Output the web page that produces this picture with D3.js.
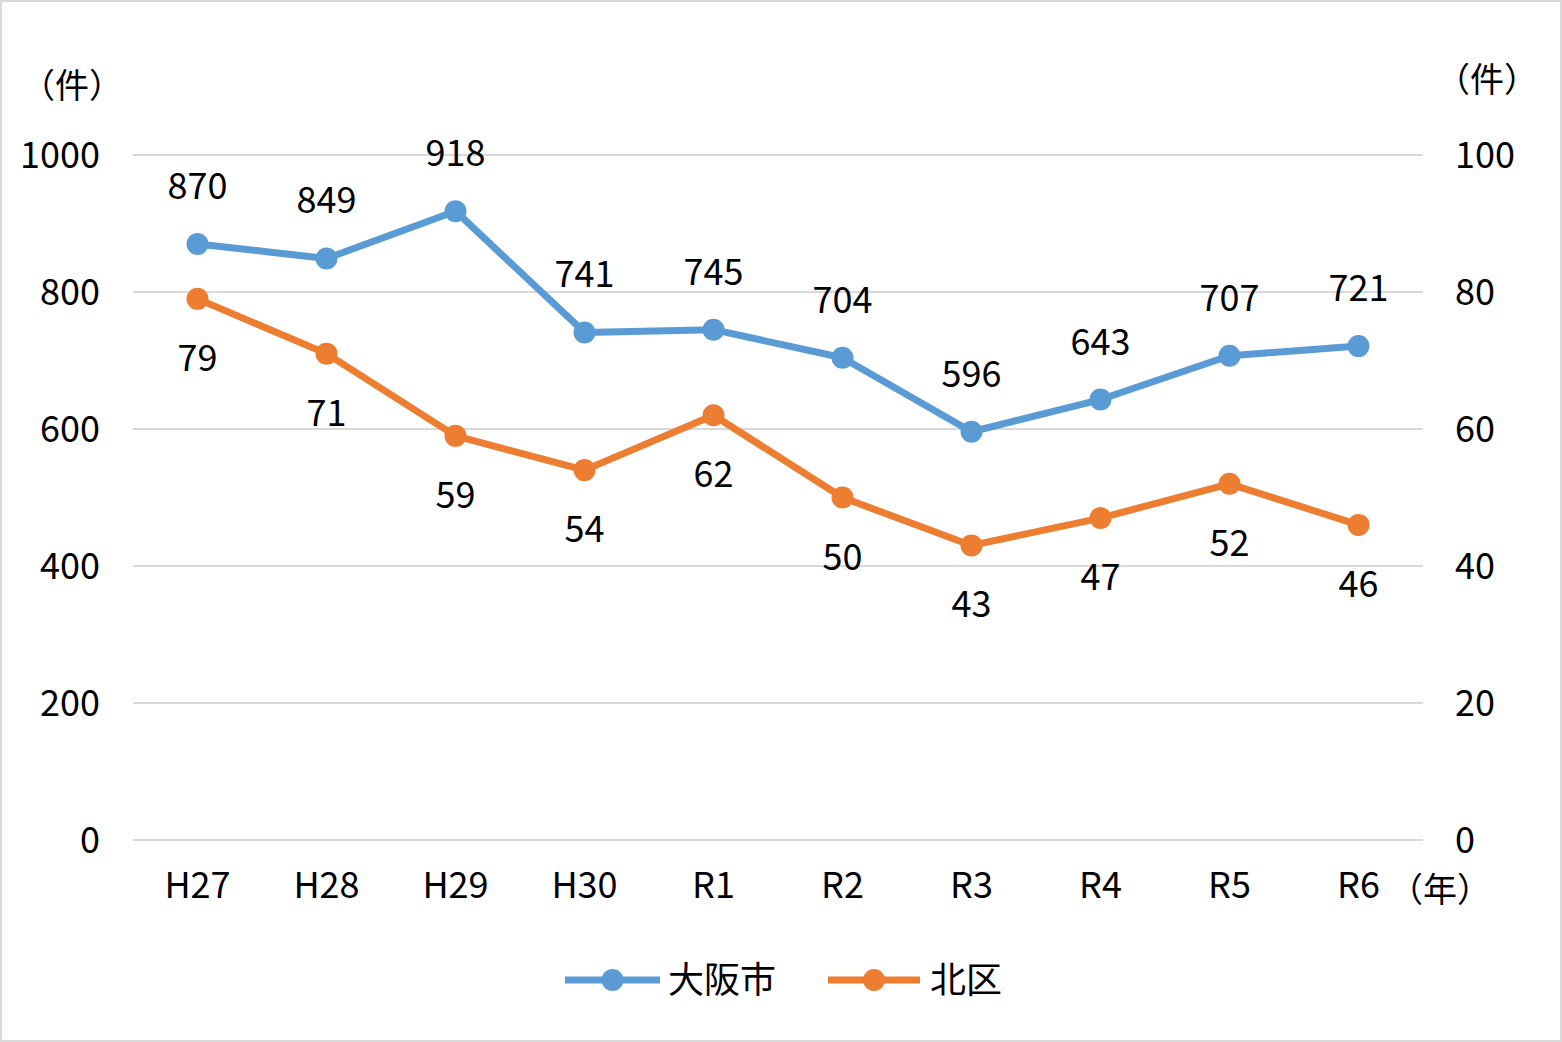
<!DOCTYPE html>
<html><head><meta charset="utf-8">
<script src="https://cdn.jsdelivr.net/npm/d3@7"></script>
<style>body{margin:0;background:#fff}</style></head>
<body><svg id="c" width="1562" height="1042"></svg>
<script>
const categories=["H27","H28","H29","H30","R1","R2","R3","R4","R5","R6"];
const osakaValues=[870,849,918,741,745,704,596,643,707,721];
const kitaValues=[79,71,59,54,62,50,43,47,52,46];
const leftTicks=[0,200,400,600,800,1000];
const rightTicks=[0,20,40,60,80,100];
const seriesNames=["大阪市","北区"];
const colors=["#5B9BD5","#ED7D31"];
const font="'Noto Sans CJK JP',sans-serif";
const svg=d3.select("#c");
svg.append("rect").attr("x",1).attr("y",1).attr("width",1560).attr("height",1040).attr("fill","#fff").attr("stroke","#d9d9d9").attr("stroke-width",2);
const x=d3.scaleBand().domain(categories).range([133,1423]);
const yL=d3.scaleLinear().domain([0,1000]).range([840,155]);
const yR=d3.scaleLinear().domain([0,100]).range([840,155]);
const cx=d=>x(d)+x.bandwidth()/2;
svg.append("g").selectAll("line").data(leftTicks).join("line")
 .attr("x1",133).attr("x2",1423).attr("y1",d=>yL(d)).attr("y2",d=>yL(d)).attr("stroke","#d9d9d9").attr("stroke-width",2);
const t=(x0,y0,s,anchor,size)=>svg.append("text").attr("x",x0).attr("y",y0).attr("text-anchor",anchor||"middle").attr("font-family",font).attr("font-size",size||36).attr("fill","#000").text(s);
leftTicks.forEach(v=>t(100,yL(v)+13,v,"end"));
rightTicks.forEach(v=>t(1455,yR(v)+13,v,"start"));
categories.forEach(c=>t(cx(c),898,c));
t(72,98,"（件）","middle",34);t(1487,92,"（件）","middle",34);t(1440,902,"（年）","middle",34);
function series(vals,y,color,dy){
 const line=d3.line().x((d,i)=>cx(categories[i])).y(d=>y(d));
 svg.append("path").attr("d",line(vals)).attr("fill","none").attr("stroke",color).attr("stroke-width",7).attr("stroke-linejoin","round");
 vals.forEach((v,i)=>{
  svg.append("circle").attr("cx",cx(categories[i])).attr("cy",y(v)).attr("r",11).attr("fill",color);
  t(cx(categories[i]),y(v)+dy,v);
 });
}
series(osakaValues,yL,colors[0],-45);
series(kitaValues,yR,colors[1],72);
[[565,660,668],[828,920,930]].forEach((p,i)=>{
 svg.append("line").attr("x1",p[0]).attr("x2",p[1]).attr("y1",980).attr("y2",980).attr("stroke",colors[i]).attr("stroke-width",7);
 svg.append("circle").attr("cx",(p[0]+p[1])/2).attr("cy",980).attr("r",11).attr("fill",colors[i]);
 t(p[2],993,seriesNames[i],"start",36);
});
</script></body></html>
